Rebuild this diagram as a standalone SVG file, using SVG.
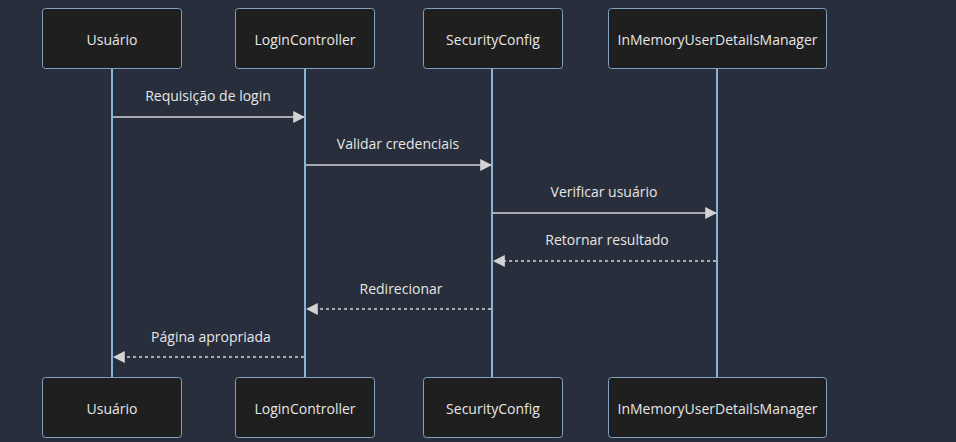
<svg xmlns="http://www.w3.org/2000/svg" width="956" height="442" viewBox="0 0 956 442">
<defs>
<style>
.actor{fill:#1f1f1f;stroke:#81a1c1;stroke-width:1}
.atext{font-family:"Open Sans","Liberation Sans",sans-serif;font-size:14px;fill:#e6e6e6;text-anchor:middle;dominant-baseline:central}
.life{stroke:#89b4d9;stroke-width:2}
.msg{stroke:#d3d3d3;stroke-width:1.5;fill:none}
.dash{stroke-dasharray:3,3}
.mtext{font-family:"Open Sans","Liberation Sans",sans-serif;font-size:14px;fill:#e6e6e6;text-anchor:middle}
</style>
<marker id="arr" viewBox="0 0 10 10" refX="9" refY="5" markerWidth="12" markerHeight="12" markerUnits="userSpaceOnUse" orient="auto">
<path d="M0,0 L10,5 L0,10 z" fill="#d3d3d3"/>
</marker>
</defs>
<rect width="956" height="442" fill="#282e3b"/>
<g id="lifelines">
<line class="life" x1="112" y1="68" x2="112" y2="377"/>
<line class="life" x1="305" y1="68" x2="305" y2="377"/>
<line class="life" x1="492" y1="68" x2="492" y2="377"/>
<line class="life" x1="717" y1="68" x2="717" y2="377"/>
</g>
<g id="usuario-top"><rect class="actor" x="42.5" y="8.5" width="139" height="60" rx="3"/><text class="atext" x="112" y="39">Usuário</text></g>
<g id="login-top"><rect class="actor" x="235.5" y="8.5" width="139" height="60" rx="3"/><text class="atext" x="305" y="39">LoginController</text></g>
<g id="security-top"><rect class="actor" x="423.5" y="8.5" width="139" height="60" rx="3"/><text class="atext" x="493" y="39">SecurityConfig</text></g>
<g id="inmemory-top"><rect class="actor" x="608.5" y="8.5" width="218" height="60" rx="3"/><text class="atext" x="717.5" y="39">InMemoryUserDetailsManager</text></g>
<g id="usuario-bottom"><rect class="actor" x="42.5" y="377.5" width="139" height="60" rx="3"/><text class="atext" x="112" y="408">Usuário</text></g>
<g id="login-bottom"><rect class="actor" x="235.5" y="377.5" width="139" height="60" rx="3"/><text class="atext" x="305" y="408">LoginController</text></g>
<g id="security-bottom"><rect class="actor" x="423.5" y="377.5" width="139" height="60" rx="3"/><text class="atext" x="493" y="408">SecurityConfig</text></g>
<g id="inmemory-bottom"><rect class="actor" x="608.5" y="377.5" width="218" height="60" rx="3"/><text class="atext" x="717.5" y="408">InMemoryUserDetailsManager</text></g>
<g id="connectors">
<line class="msg" x1="113" y1="117" x2="304" y2="117" marker-end="url(#arr)"/>
<text class="mtext" x="208" y="101">Requisição de login</text>
<line class="msg" x1="306" y1="165" x2="491" y2="165" marker-end="url(#arr)"/>
<text class="mtext" x="398" y="149">Validar credenciais</text>
<line class="msg" x1="493" y1="213" x2="716" y2="213" marker-end="url(#arr)"/>
<text class="mtext" x="604" y="197">Verificar usuário</text>
<line class="msg dash" x1="716" y1="261" x2="494" y2="261" marker-end="url(#arr)"/>
<text class="mtext" x="607" y="245">Retornar resultado</text>
<line class="msg dash" x1="491" y1="309" x2="307" y2="309" marker-end="url(#arr)"/>
<text class="mtext" x="401" y="294">Redirecionar</text>
<line class="msg dash" x1="304" y1="357" x2="114" y2="357" marker-end="url(#arr)"/>
<text class="mtext" x="211" y="342">Página apropriada</text>
</g>
</svg>
